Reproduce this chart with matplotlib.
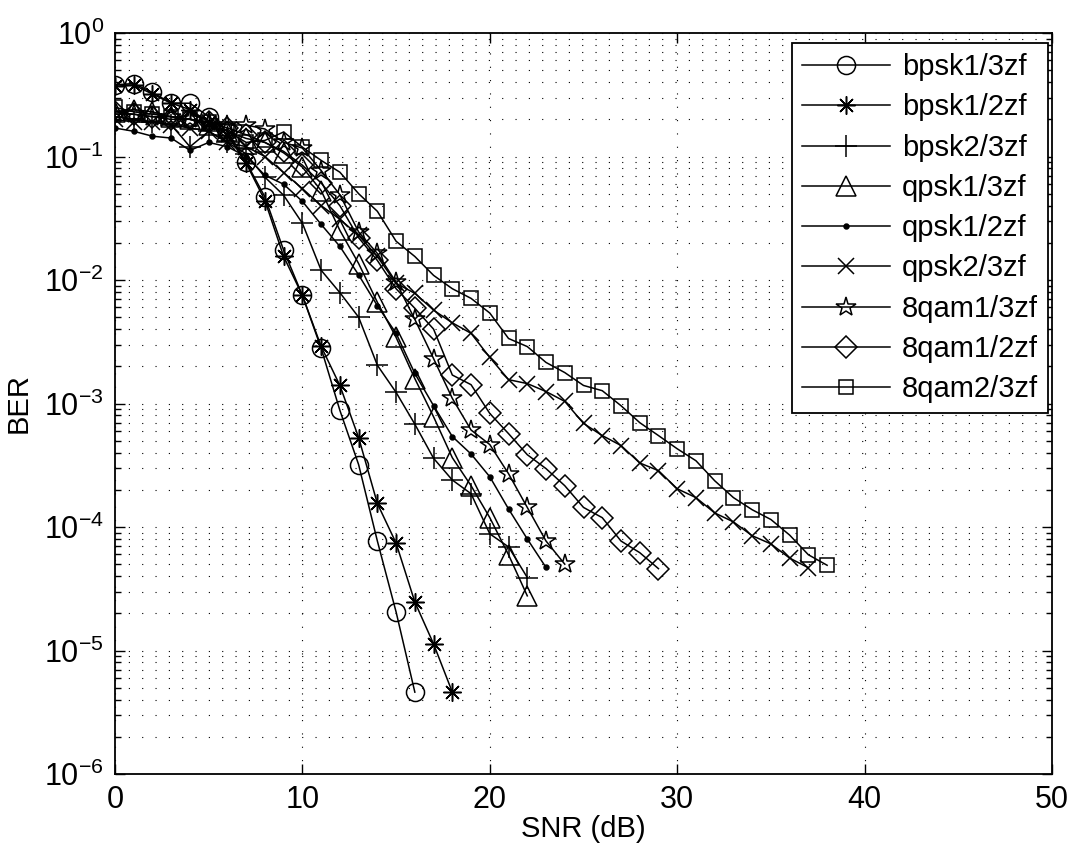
import matplotlib
matplotlib.use('Agg')
import matplotlib.pyplot as plt
import numpy as np
from matplotlib.ticker import LogLocator, NullFormatter

plt.rcParams['font.family'] = ['Liberation Sans', 'DejaVu Sans']
plt.rcParams['mathtext.fontset'] = 'custom'
plt.rcParams['mathtext.rm'] = 'Liberation Sans'
plt.rcParams['mathtext.default'] = 'regular'

# Data (BER per SNR step of 1 dB, starting at 0 dB)
labels = ['bpsk1/3zf', 'bpsk1/2zf', 'bpsk2/3zf', 'qpsk1/3zf', 'qpsk1/2zf',
          'qpsk2/3zf', '8qam1/3zf', '8qam1/2zf', '8qam2/3zf']

bpsk13 = [0.38, 0.39, 0.33, 0.27, 0.27, 0.21, 0.16, 0.090, 0.047, 0.0174, 0.0075,
          0.0028, 8.8e-4, 3.2e-4, 7.7e-5, 2.05e-5, 4.6e-6]
bpsk12 = [0.37, 0.38, 0.32, 0.27, 0.24, 0.19, 0.15, 0.088, 0.044, 0.0155, 0.0075,
          0.0029, 1.4e-3, 5.3e-4, 1.55e-4, 7.4e-5, 2.47e-5, 1.13e-5, 4.6e-6]
bpsk23 = [0.21, 0.20, 0.19, 0.18, 0.12, 0.16, 0.13, 0.105, 0.068, 0.0485, 0.0288,
          0.012, 0.0079, 0.0050, 0.00204, 0.00123, 6.8e-4, 3.6e-4, 2.4e-4, 1.86e-4,
          8.8e-5, 6.9e-5, 3.9e-5]
qpsk13 = [0.23, 0.24, 0.23, 0.21, 0.20, 0.18, 0.16, 0.14, 0.13, 0.107, 0.082,
          0.053, 0.0252, 0.0136, 0.0066, 0.00343, 0.00159, 7.8e-4, 3.64e-4, 2.16e-4,
          1.19e-4, 5.96e-5, 2.77e-5]
qpsk12 = [0.17, 0.16, 0.146, 0.141, 0.112, 0.13, 0.12, 0.10, 0.0705, 0.0596, 0.0433,
          0.0282, 0.0187, 0.011, 0.0062, 0.0037, 1.75e-3, 9.6e-4, 5.4e-4, 3.9e-4,
          2.55e-4, 1.4e-4, 8.0e-5, 4.7e-5]
qpsk23 = [0.20, 0.19, 0.19, 0.18, 0.17, 0.16, 0.13, 0.12, 0.10, 0.074, 0.055,
          0.040, 0.031, 0.023, 0.0155, 0.0094, 0.0078, 0.0057, 0.0045, 0.0037,
          0.00236, 0.00156, 0.00145, 0.00125, 0.00104, 6.9e-4, 5.5e-4, 4.57e-4,
          3.3e-4, 2.86e-4, 2.04e-4, 1.73e-4, 1.3e-4, 1.1e-4, 8.5e-5, 7.3e-5,
          5.6e-5, 4.68e-5]
qam13 = [0.22, 0.22, 0.21, 0.21, 0.20, 0.19, 0.18, 0.18, 0.167, 0.13, 0.117,
         0.077, 0.049, 0.0245, 0.0164, 0.0096, 0.0048, 0.00231, 0.0011, 6.1e-4,
         4.65e-4, 2.7e-4, 1.44e-4, 7.7e-5, 5.0e-5]
qam12 = [0.23, 0.22, 0.21, 0.20, 0.20, 0.19, 0.17, 0.15, 0.13, 0.11, 0.085,
         0.061, 0.040, 0.022, 0.0144, 0.0085, 0.0059, 0.0040, 0.0017, 0.00142,
         8.3e-4, 5.7e-4, 3.85e-4, 2.97e-4, 2.16e-4, 1.44e-4, 1.19e-4, 7.7e-5,
         6.2e-5, 4.6e-5]
qam23 = [0.25, 0.23, 0.22, 0.21, 0.20, 0.19, 0.16, 0.13, 0.135, 0.158, 0.119,
         0.093, 0.0746, 0.050, 0.036, 0.0206, 0.0155, 0.0109, 0.0085, 0.0071,
         0.0054, 0.00336, 0.00289, 0.00215, 0.00178, 0.0014, 0.00127, 9.6e-4,
         7.0e-4, 5.5e-4, 4.3e-4, 3.44e-4, 2.37e-4, 1.73e-4, 1.38e-4, 1.15e-4,
         8.6e-5, 5.96e-5, 4.9e-5]

series = [bpsk13, bpsk12, bpsk23, qpsk13, qpsk12, qpsk23, qam13, qam12, qam23]
markers = ['o', (8, 2, 0), '+', '^', '.', 'x', '*', 'D', 's']
msizes = [13, 13, 16, 14, 7, 11, 15, 11, 10]

fig = plt.figure(figsize=(10.74, 8.49), dpi=100)
ax = fig.add_axes([115 / 1074, 1 - 774 / 849, 937 / 1074, 741 / 849])

for ber, lab, m, ms in zip(series, labels, markers, msizes):
    snr = np.arange(len(ber))
    ax.semilogy(snr, ber, color='k', lw=1.1, marker=m, ms=ms,
                mfc='k' if m == '.' else 'none', mec='k', mew=1.1, label=lab)

ax.set_xlim(0, 50)
ax.set_ylim(1e-6, 1)
ax.set_xticks([0, 10, 20, 30, 40, 50])
ax.yaxis.set_major_locator(LogLocator(base=10, numticks=10))
ax.yaxis.set_minor_locator(LogLocator(base=10, subs=np.arange(2, 10), numticks=100))
ax.yaxis.set_minor_formatter(NullFormatter())

dots = (0, (1, 11))
ax.grid(True, which='major', axis='x', color='k', lw=0.8, linestyle=dots)
ax.grid(True, which='both', axis='y', color='k', lw=0.8, linestyle=dots)

ax.tick_params(which='both', direction='in', top=True, right=True, labelsize=22,
               width=1.0)
ax.tick_params(which='major', length=7, pad=8)
ax.tick_params(which='minor', length=4)
for s in ax.spines.values():
    s.set_linewidth(1.3)

ax.set_xlabel('SNR (dB)', fontsize=21, labelpad=0)
ax.set_ylabel('BER', fontsize=21, labelpad=8)

leg = ax.legend(loc='upper right', bbox_to_anchor=(0.9957, 0.9865), borderaxespad=0,
                fontsize=21, fancybox=False, framealpha=1, edgecolor='k',
                handlelength=3.0, labelspacing=0.42, handletextpad=0.4,
                borderpad=0.35)
leg.get_frame().set_linewidth(1.3)

plt.savefig('out.png', dpi=100)
